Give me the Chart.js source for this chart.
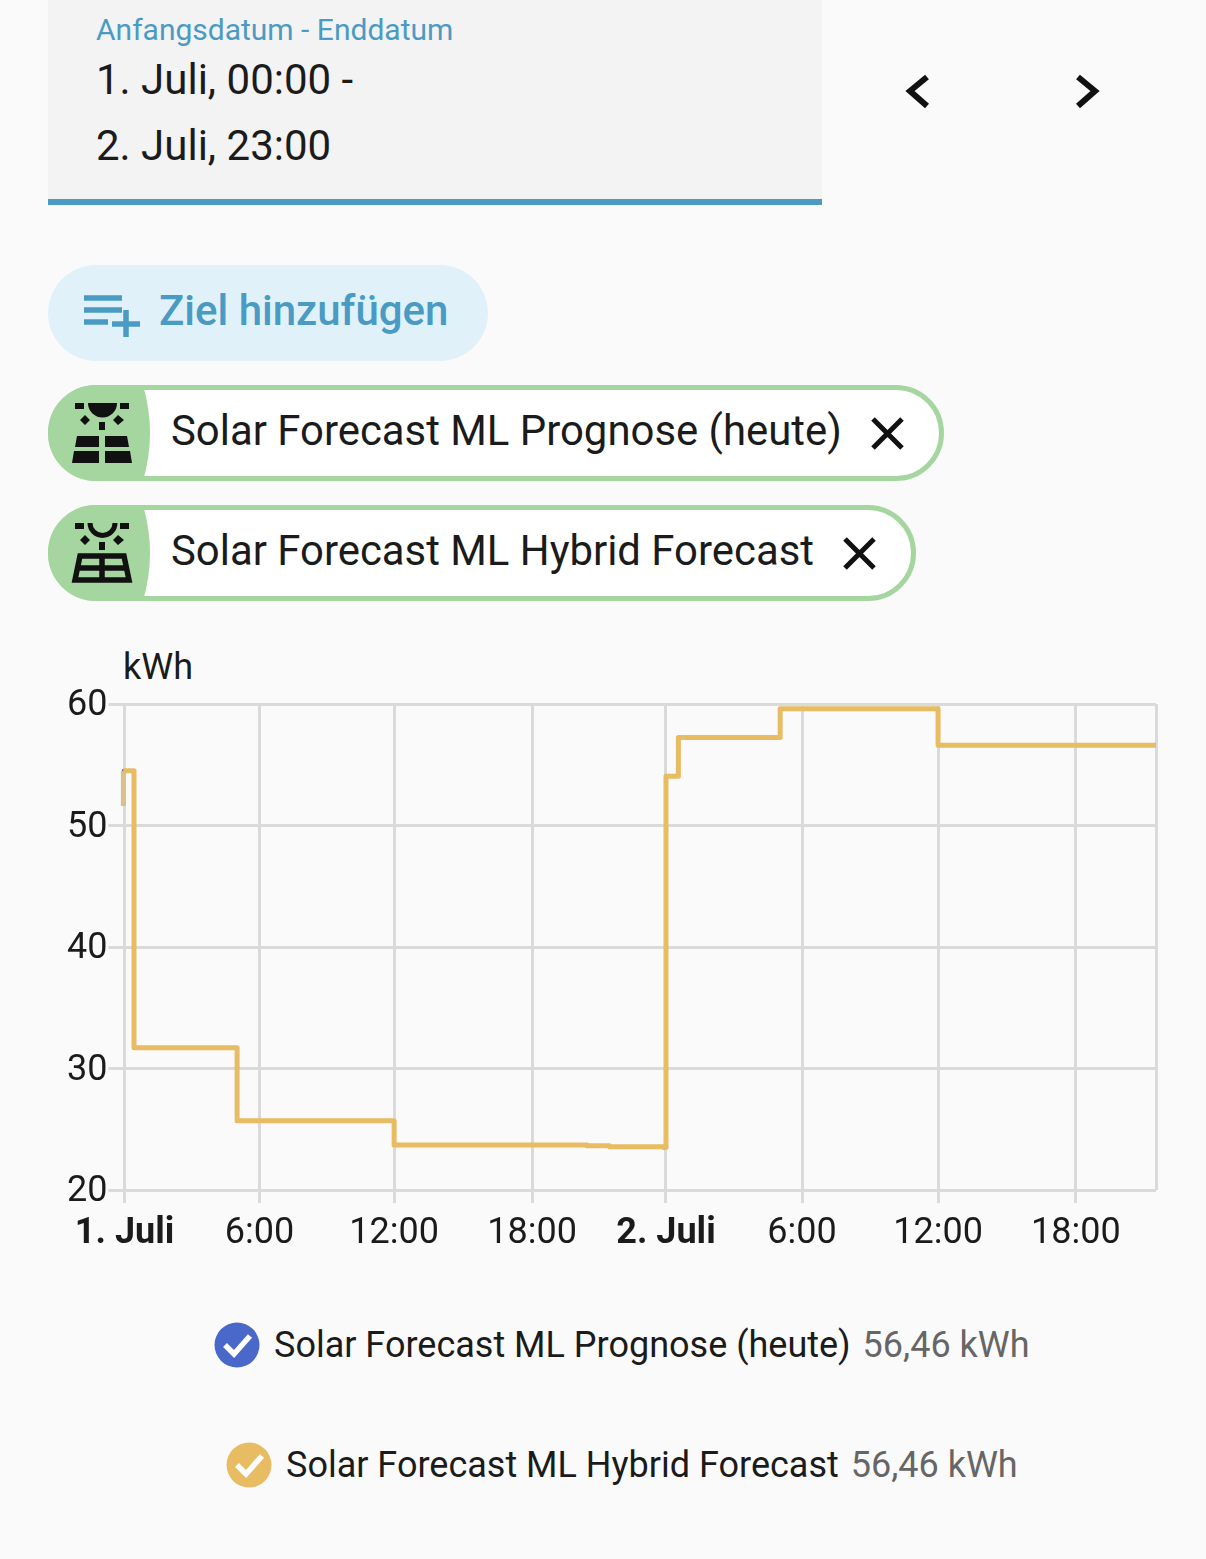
<!DOCTYPE html>
<html lang="de">
<head>
<meta charset="utf-8">
<title>Solar Forecast ML</title>
<script src="https://cdn.jsdelivr.net/npm/chart.js@4"></script>
<style>
  html, body { margin: 0; background: #fafafa; }
  body { width: 1206px; height: 1559px; position: relative; overflow: hidden; font-family: Roboto, sans-serif; color: #1b1b1b; }
  .abs { position: absolute; white-space: nowrap; }
  #field { left: 48px; top: 0; width: 774px; height: 199px; background: #f3f3f3; border-bottom: 6px solid #4a9bc4; }
  #add { left: 48px; top: 265px; width: 440px; height: 96px; border-radius: 48px; background: #e1f1fa; }
  .chip { left: 48px; height: 86px; border: 5px solid #a5d6a0; border-radius: 48px; background: #fff; }
  #icons { position: absolute; left: 0; top: 0; }
  #chart { position: absolute; left: 0; top: 640px; }
  .txt { line-height: 1; }
</style>
</head>
<body>
<div class="abs" id="field"></div>
<div class="abs txt" style="left:96px;top:15px;font-size:30px;color:#4a9bc4">Anfangsdatum - Enddatum</div>
<div class="abs txt" style="left:96px;top:59px;font-size:42px">1. Juli, 00:00 -</div>
<div class="abs txt" style="left:96px;top:125px;font-size:42px">2. Juli, 23:00</div>
<div class="abs" id="add"></div>
<div class="abs txt" style="left:159px;top:290px;font-size:42px;font-weight:500;color:#4a9bc4">Ziel hinzufügen</div>
<div class="abs chip" style="top:385px;width:886px"></div>
<div class="abs chip" style="top:505px;width:858px"></div>

<svg id="icons" width="1206" height="1559" fill="none">
  <!-- chevrons -->
  <path d="M927 77L910 91L927 106M1078 77L1095 91L1078 106" stroke="#111" stroke-width="6"/>
  <!-- add target icon -->
  <path d="M84 298H122M84 310H122M84 322H108M112 324H140M126 310V337" stroke="#4a9bc4" stroke-width="5.500"/>
  <!-- chip colour blobs -->
  <path d="M96 385H143Q157 433 143 481H96A48 48 0 0 1 96 385Z" fill="#a5d6a0"/>
  <path d="M96 505H143Q157 553 143 601H96A48 48 0 0 1 96 505Z" fill="#a5d6a0"/>
  <!-- filled solar icon -->
  <g fill="#111">
    <path d="M88 403H117A14.500 14.500 0 0 1 88 403Z"/>
    <path d="M75 403H84V409H75ZM120 403H129V409H120ZM99 422H105V430H99Z"/>
    <path d="M85 415L90 420L85 425L80 420ZM118 415L124 420L118 425L113 420Z"/>
    <path d="M77 436H99V447H75ZM105 436H127L129 447H105ZM74 451H99V463H72ZM105 451H130L132 463H105Z"/>
  </g>
  <!-- outline solar icon -->
  <g fill="#111">
    <path d="M75 523H84V529H75ZM120 523H129V529H120ZM99 542H105V550H99Z"/>
    <path d="M85 535L90 540L85 545L80 540ZM118 535L124 540L118 545L113 540Z"/>
  </g>
  <path d="M90 523A12.500 12.500 0 0 0 115 523" stroke="#111" stroke-width="5"/>
  <path d="M80 556H124L129 580H75ZM78 568H126M102 556V580" stroke="#111" stroke-width="5.500"/>
  <!-- chip close icons -->
  <path d="M873 419L902 448M902 419L873 448M845 539L874 568M874 539L845 568" stroke="#111" stroke-width="5"/>
  <!-- legend checks -->
  <circle cx="237" cy="1345" r="22.500" fill="#4a68c9"/>
  <path d="M225 1345L234 1354L250 1336" stroke="#fff" stroke-width="5.500"/>
  <circle cx="249" cy="1465" r="22.500" fill="#e8bc62"/>
  <path d="M237 1465L246 1474L262 1456" stroke="#fff" stroke-width="5.500"/>
</svg>

<div class="abs txt" id="chipName0" style="left:171px;top:410px;font-size:41.880px"></div>
<div class="abs txt" id="chipName1" style="left:171px;top:530px;font-size:41.880px"></div>
<div class="abs txt" style="left:123px;top:649px;font-size:36px">kWh</div>

<canvas id="chart" width="1206" height="620"></canvas>

<div class="abs txt" style="left:274px;top:1327px;font-size:36px"><span id="legendName0"></span> <span id="legendValue0" style="margin-left:3px;color:#666"></span></div>
<div class="abs txt" style="left:286px;top:1447px;font-size:36px"><span id="legendName1"></span> <span id="legendValue1" style="margin-left:3px;color:#666"></span></div>

<script>
// series names and the summary values from the legend
const seriesNames = ['Solar Forecast ML Prognose (heute)', 'Solar Forecast ML Hybrid Forecast'];
const legendValues = ['56,46 kWh', '56,46 kWh'];

// hours since 1. Juli 00:00
const hours = [-0.05, -0.05, 0.42, 4.99, 11.95, 20.5, 21.5, 23.9, 24, 24.55, 29.06, 36.06, 45.72];
const prognose = [51.6, 54.5, 31.7, 25.7, 23.7, 23.65, 23.55, 23.5, 54.05, 57.25, 59.6, 56.6, 56.6];
const hybrid = [51.6, 54.5, 31.7, 25.7, 23.7, 23.65, 23.55, 23.5, 54.05, 57.25, 59.6, 56.6, 56.6];

// x ticks, the last one is only the right edge of the plot
const tickHours = [0, 5.98, 11.95, 18.07, 24, 30.03, 36.06, 42.17, 45.72];
const tickLabels = ['1. Juli', '6:00', '12:00', '18:00', '2. Juli', '6:00', '12:00', '18:00', ''];
const boldTicks = ['1. Juli', '2. Juli'];

const yMin = 20;
const yMax = 60;
const yStep = 10;

const gridColor = '#dadada';
const textColor = '#1b1b1b';

seriesNames.forEach((name, i) => {
  document.getElementById('chipName' + i).textContent = name;
  document.getElementById('legendName' + i).textContent = name;
  document.getElementById('legendValue' + i).textContent = legendValues[i];
});

const toPoints = (values) => values.map((v, i) => ({ x: hours[i], y: v }));

new Chart(document.getElementById('chart'), {
  type: 'line',
  data: {
    datasets: [
      {
        label: seriesNames[0],
        data: toPoints(prognose),
        order: 2,
        borderColor: '#4a68c9',
        borderWidth: 3,
        stepped: 'before',
        pointRadius: 0,
        clip: false,
      },
      {
        label: seriesNames[1],
        data: toPoints(hybrid),
        order: 1,
        borderColor: '#e8bc62',
        borderWidth: 5,
        borderJoinStyle: 'round',
        stepped: 'before',
        pointRadius: 0,
        clip: false,
        // the first short bit looks washed out in the original
        segment: { borderColor: (ctx) => (ctx.p0DataIndex === 0 ? '#d9c08c' : undefined) },
      },
    ],
  },
  options: {
    responsive: false,
    animation: false,
    layout: { padding: { top: 64, right: 50, left: 0, bottom: 0 } },
    plugins: { legend: { display: false }, tooltip: { enabled: false } },
    scales: {
      x: {
        type: 'linear',
        min: hours[0],
        max: tickHours[tickHours.length - 1],
        afterBuildTicks: (scale) => {
          scale.ticks = tickHours.map((value) => ({ value }));
        },
        afterFit: (scale) => {
          scale.height = 70;
        },
        border: { display: false },
        grid: {
          color: gridColor,
          lineWidth: 3,
          tickLength: 13,
          tickColor: (ctx) => (ctx.index === tickHours.length - 1 ? 'transparent' : gridColor),
        },
        ticks: {
          autoSkip: false,
          maxRotation: 0,
          padding: 9,
          color: textColor,
          font: (ctx) => ({
            family: 'Roboto',
            size: 36,
            weight: boldTicks.includes(tickLabels[ctx.index]) ? '700' : '400',
          }),
          callback: (value, index) => tickLabels[index],
        },
      },
      y: {
        min: yMin,
        max: yMax,
        afterFit: (scale) => {
          scale.width = 123.4;
        },
        border: { display: false },
        grid: { color: gridColor, lineWidth: 3, tickLength: 15, tickColor: gridColor },
        ticks: {
          stepSize: yStep,
          padding: 1,
          labelOffset: 2,
          color: textColor,
          font: { family: 'Roboto', size: 36 },
        },
      },
    },
  },
});
</script>
</body>
</html>
